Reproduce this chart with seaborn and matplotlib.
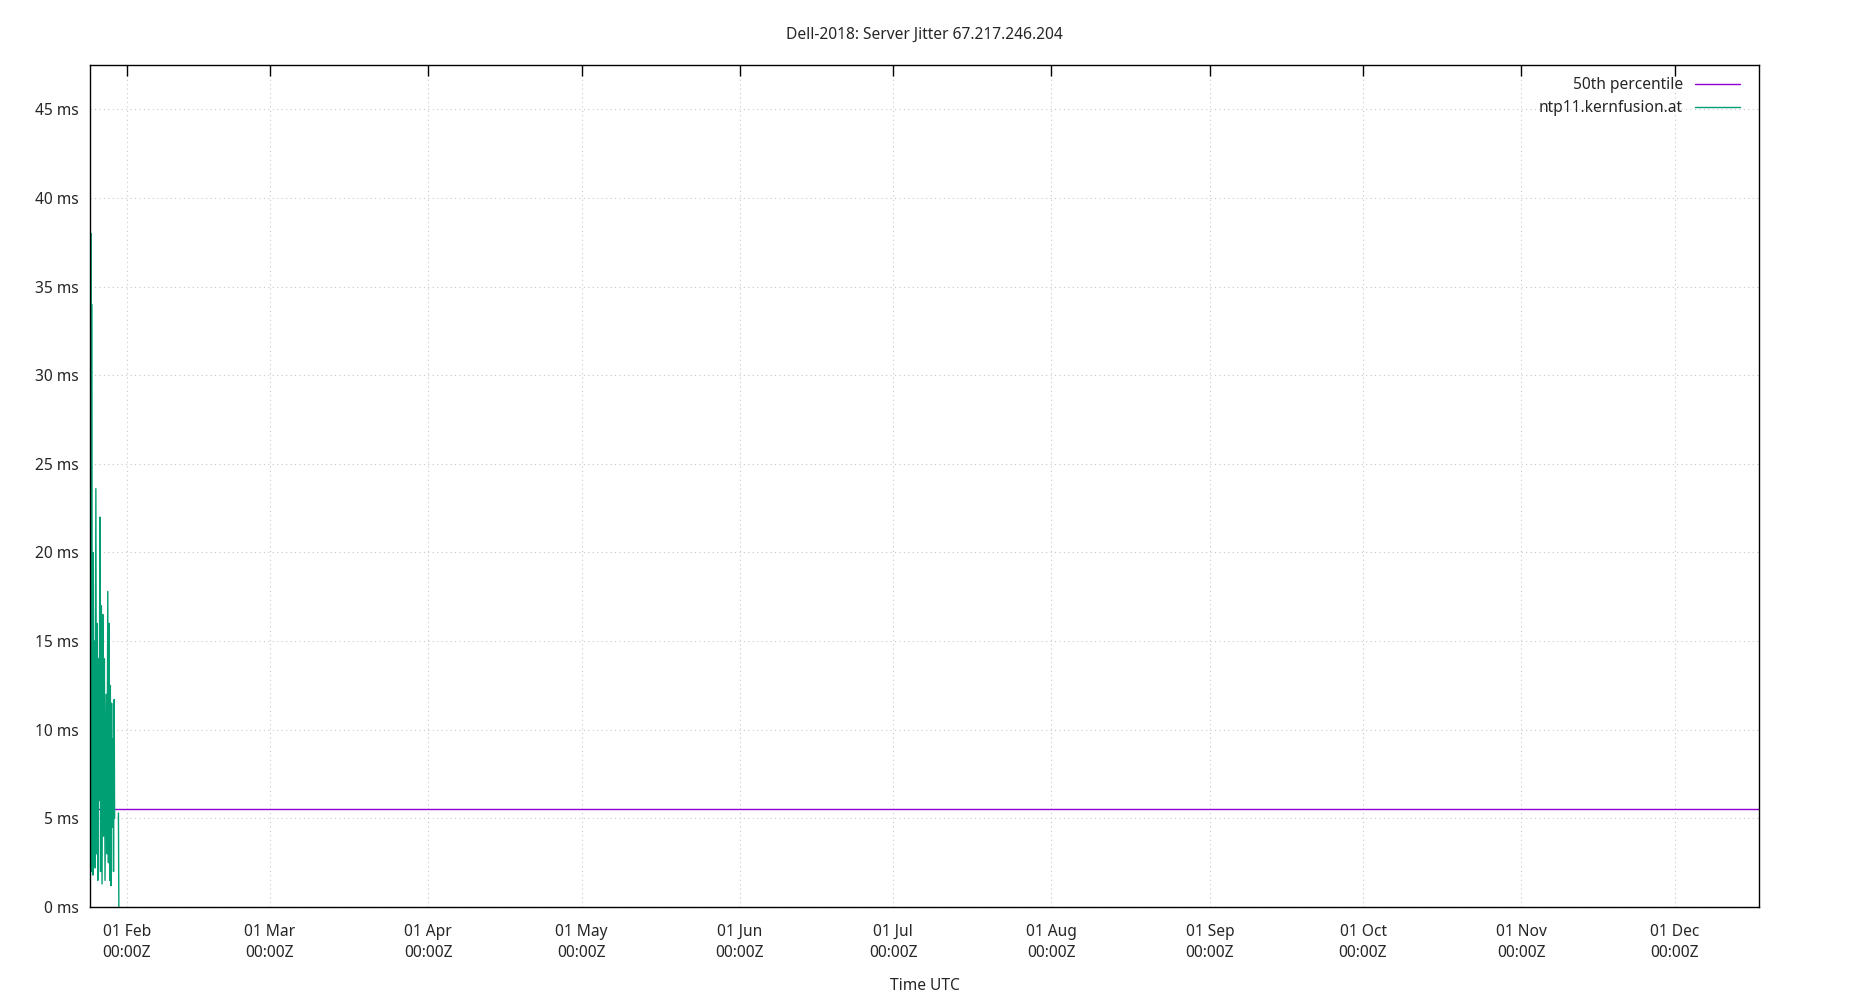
import seaborn as sns
import pandas as pd
import matplotlib.pyplot as plt
import matplotlib.dates as mdates

# Data (hours after the first sample, jitter in ms, segment id for gaps)
start = pd.Timestamp('2018-01-25 00:00')
hours = [0, 1, 2, 4, 6, 8, 10, 13, 15, 18, 22, 25, 28, 31, 34, 37, 41, 44, 48,
         51, 55, 58, 62, 65, 70, 74, 78, 81, 84, 87, 90, 93, 96, 99, 102, 105,
         108, 110, 128, 130]
jitter_ms = [38.0, 2.0, 34.0, 3.0, 16.0, 1.8, 20.0, 4.5, 15.0, 2.2, 23.6, 3.0,
             16.0, 1.5, 14.0, 6.0, 22.0, 2.0, 17.0, 1.3, 16.5, 4.0, 14.0, 1.5,
             12.0, 3.0, 17.8, 2.5, 16.0, 1.5, 12.5, 1.2, 11.5, 4.5, 9.5, 2.0,
             11.7, 5.0, 5.3, 0.0]
segment = [0] * 38 + [1] * 2
median_ms = 5.55
server = 'ntp11.kernfusion.at'
yticks = [0, 5, 10, 15, 20, 25, 30, 35, 40, 45]
xticks = ['2018-02-01', '2018-03-01', '2018-04-01', '2018-05-01', '2018-06-01',
          '2018-07-01', '2018-08-01', '2018-09-01', '2018-10-01', '2018-11-01',
          '2018-12-01']

df = pd.DataFrame({'time': start + pd.to_timedelta(hours, unit='h'),
                   'jitter': jitter_ms, 'seg': segment})

sns.set_theme(style="white")
plt.rcParams['font.family'] = ['Noto Sans', 'DejaVu Sans']

fig = plt.figure(figsize=(18.5, 10), dpi=100)
ax = fig.add_axes([0.0486, 0.093, 0.9024, 0.842])

ax.axhline(median_ms, color='#9400d3', lw=1, label='50th percentile')
sns.lineplot(data=df, x='time', y='jitter', units='seg', color='#009e73', lw=1.0,
             label=server, ax=ax, estimator=None)

ax.set_xlim(pd.Timestamp('2018-01-24 18:00'), pd.Timestamp('2018-12-17 14:00'))
ax.set_ylim(0, 47.5)
ax.set_yticks(yticks)
ax.set_yticklabels([f'{v} ms' for v in yticks])
ax.set_xticks(pd.to_datetime(xticks))
ax.xaxis.set_major_formatter(mdates.DateFormatter('%d %b\n%H:%MZ'))

ax.grid(True, color='#c8c8c8', linestyle=(0, (1, 3)), lw=0.8)
for s in ax.spines.values():
    s.set_color('black')
    s.set_linewidth(1)
ax.tick_params(direction='in', length=8, width=1, color='black',
               top=True, right=False, labelsize=11.2, pad=8)
ax.tick_params(axis='x', pad=12)
for lab in ax.get_xticklabels():
    lab.set_linespacing(1.45)

ax.set_title('Dell-2018: Server Jitter 67.217.246.204', fontsize=11.2, pad=19)
ax.set_xlabel('Time UTC', fontsize=11.2, labelpad=12)
ax.set_ylabel('')

# one legend entry per series
handles, labels = ax.get_legend_handles_labels()
seen = {}
for h, l in zip(handles, labels):
    seen.setdefault(l, h)
ax.legend(list(seen.values()), list(seen.keys()), loc='upper right',
          bbox_to_anchor=(0.996, 1.0), frameon=False, markerfirst=False,
          fontsize=11.2, handlelength=2.9, borderaxespad=0.4, labelspacing=0.45)

fig.savefig('out.png', dpi=100)
